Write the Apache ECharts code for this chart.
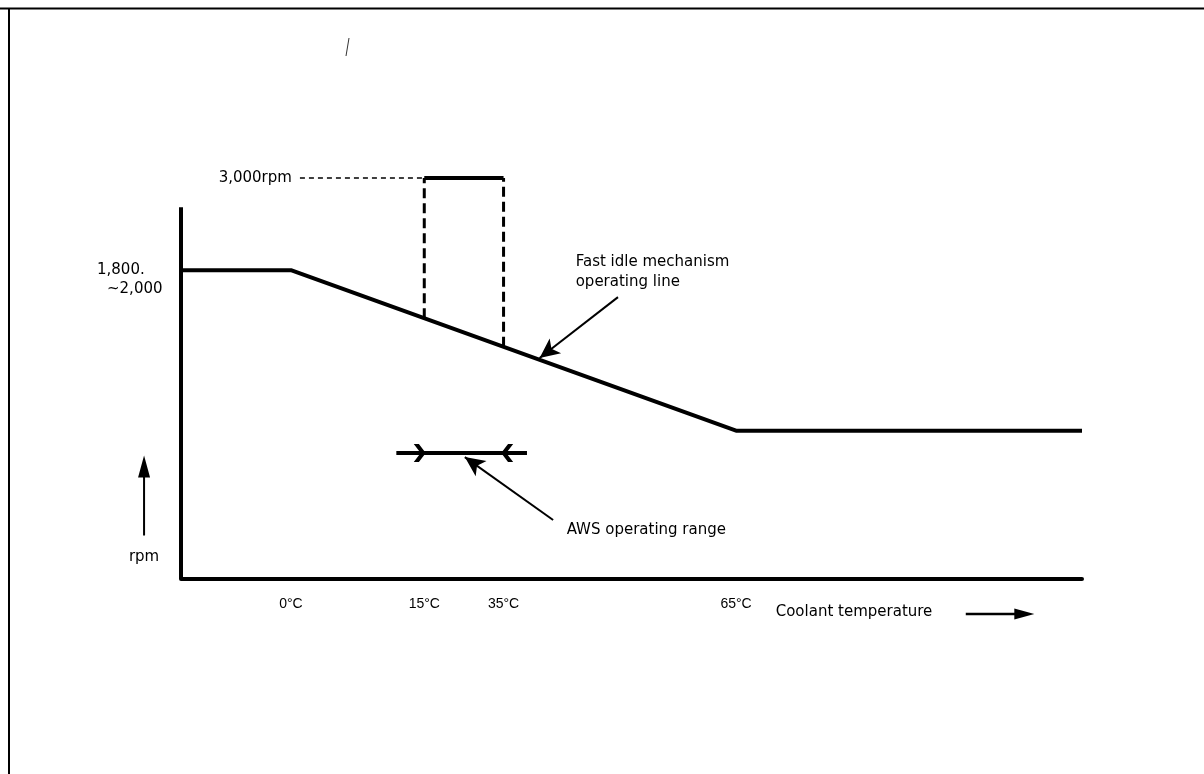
<!DOCTYPE html>
<html>
<head>
<meta charset="utf-8">
<script src="https://cdn.jsdelivr.net/npm/echarts@6/dist/echarts.min.js"></script>
<style>
html,body{margin:0;padding:0;background:#fff;}
#c{width:1204px;height:774px;}
</style>
</head>
<body>
<div id="c"></div>
<script>
// Schematic units: x = position along temperature axis (0..100), y = relative rpm level (0..100)
const tempLabels = ['0°C', '15°C', '35°C', '65°C'];
const tempPos = [12.2, 27.0, 35.8, 61.6];

// Fast idle mechanism operating line
const idleX = [0, 12.2, 61.6, 100];
const idleY = [77, 77, 37, 37];

// 3,000 rpm pulse (AWS)
const pulseX = [27.0, 35.8];
const pulseBottomY = [65.0, 57.9];
const pulseTopY = 100;
const rpm3000RefStartX = 13.2;

// rpm level label
const rpmLevelTop = '1,800.';
const rpmLevelBottom = '~2,000';
const rpmLevelY = 77;

// AWS operating range
const awsRange = [23.9, 38.4];
const awsY = 31.4;
const awsChevrons = [26.5, 36.2];

// y-axis line extent
const yAxisTop = 92.7;

// annotations
const fastIdleText = 'Fast idle mechanism\noperating line';
const fastIdleAnchor = [43.8, 76.6];
const fastIdleArrow = [[48.5, 70.3], [39.8, 55.1]];
const awsText = 'AWS operating range';
const awsAnchor = [42.8, 12.2];
const awsArrow = [[41.3, 14.7], [31.5, 30.4]];
const rpmArrowMid = [-4.1, 20.8];
const rpmText = 'rpm';
const rpmTextAnchor = [-4.1, 5.5];
const coolantText = 'Coolant temperature';
const coolantAnchor = [66.0, -8.3];
const coolantArrow = [[87.1, -8.7], [92.6, -8.7]];
const coolantArrowTip = [93.6, -8.7];

const FONT = 'Liberation Sans';
const FONT2 = 'DejaVu Sans';
const chart = echarts.init(document.getElementById('c'), null, {renderer: 'canvas'});

const chevronRight = 'path://M0,0 L6,0 L14,10 L6,20 L0,20 L8,10 Z';
const chevronLeft = 'path://M14,0 L8,0 L0,10 L8,20 L14,20 L6,10 Z';
const upArrow = 'path://M6,0 L12,22 L7,22 L7,80 L5,80 L5,22 L0,22 Z';

const txt = {color: '#000', fontFamily: FONT, fontSize: 14};
const txt2 = {color: '#000', fontFamily: FONT2, fontSize: 15, opacity: 1};

chart.setOption({
  animation: false,
  backgroundColor: '#fff',
  grid: {left: 181, right: 122, top: 178, bottom: 195, containLabel: false},
  xAxis: {
    type: 'value', min: 0, max: 100,
    splitLine: {show: false},
    axisTick: {show: false},
    axisLine: {show: true, lineStyle: {color: '#000', width: 4}},
    axisLabel: {
      customValues: tempPos,
      formatter: function (v) {
        const i = tempPos.findIndex(p => Math.abs(p - v) < 1e-6);
        return i >= 0 ? tempLabels[i] : '';
      },
      margin: 18, ...txt
    }
  },
  yAxis: {
    type: 'value', min: 0, max: 100,
    splitLine: {show: false},
    axisTick: {show: false},
    axisLine: {show: false},
    axisLabel: {
      customValues: [rpmLevelY],
      formatter: function () { return '{a|' + rpmLevelTop + '}\n{b|' + rpmLevelBottom + '}'; },
      align: 'left', margin: 84, lineHeight: 19,
      padding: [19, 0, 0, 0], ...txt2,
      rich: {
        a: {fontFamily: FONT2, fontSize: 15, color: '#000', lineHeight: 19},
        b: {fontFamily: FONT2, fontSize: 15, color: '#000', lineHeight: 19, padding: [0, 0, 0, 10]}
      }
    }
  },
  graphic: [
    {type: 'line', shape: {x1: 0, y1: 8.5, x2: 1204, y2: 8.5}, style: {stroke: '#000', lineWidth: 2}},
    {type: 'line', shape: {x1: 9, y1: 8, x2: 9, y2: 774}, style: {stroke: '#000', lineWidth: 2}},
    {type: 'line', shape: {x1: 349, y1: 38, x2: 346, y2: 56}, style: {stroke: '#333', lineWidth: 1}}
  ],
  series: [
    { // y axis line
      type: 'line', clip: false, symbol: 'none', silent: true,
      data: [[0, 0], [0, yAxisTop]],
      lineStyle: {color: '#000', width: 4}
    },
    { // fast idle operating line
      type: 'line', clip: false, symbol: 'none',
      data: idleX.map((x, i) => [x, idleY[i]]),
      lineStyle: {color: '#000', width: 4},
      markLine: {
        silent: true, symbol: ['none', 'arrow'], symbolSize: [14, 20],
        label: {show: false},
        lineStyle: {color: '#000', width: 2, type: 'solid', opacity: 1},
        itemStyle: {color: '#000', opacity: 1},
        data: [
          [{coord: fastIdleArrow[0]}, {coord: fastIdleArrow[1]}],
          [{coord: awsArrow[0]}, {coord: awsArrow[1]}]
        ]
      }
    },
    { // dashed vertical left
      type: 'line', clip: false, symbol: 'none',
      data: [[pulseX[0], pulseBottomY[0]], [pulseX[0], pulseTopY]],
      lineStyle: {color: '#000', width: 3, type: [10, 5]}
    },
    { // dashed vertical right
      type: 'line', clip: false, symbol: 'none',
      data: [[pulseX[1], pulseBottomY[1]], [pulseX[1], pulseTopY]],
      lineStyle: {color: '#000', width: 3, type: [10, 5]}
    },
    { // top solid
      type: 'line', clip: false, symbol: 'none',
      data: [[pulseX[0], pulseTopY], [pulseX[1], pulseTopY]],
      lineStyle: {color: '#000', width: 4}
    },
    { // 3000 rpm reference dashed
      type: 'line', clip: false, symbol: 'none',
      data: [
        {value: [rpm3000RefStartX, pulseTopY], label: {show: true, position: 'left', distance: 8, formatter: '3,000rpm', ...txt2}, symbol: 'circle', symbolSize: 0.1},
        [pulseX[0], pulseTopY]
      ],
      lineStyle: {color: '#000', width: 1.5, type: [5, 4]}
    },
    { // AWS range
      type: 'line', clip: false, symbol: 'none',
      data: [[awsRange[0], awsY], [awsRange[1], awsY]],
      lineStyle: {color: '#000', width: 4}
    },
    { // chevrons
      type: 'scatter', clip: false,
      data: [
        {value: [awsChevrons[0], awsY], symbol: chevronRight},
        {value: [awsChevrons[1], awsY], symbol: chevronLeft}
      ],
      symbolSize: [12, 18],
      itemStyle: {color: '#000', opacity: 1}
    },
    { // coolant arrow shaft
      type: 'line', clip: false, symbol: 'none',
      data: coolantArrow,
      lineStyle: {color: '#000', width: 2.5}
    },
    { // arrow heads / rpm arrow
      type: 'scatter', clip: false,
      data: [
        {value: rpmArrowMid, symbol: upArrow, symbolSize: [12, 80], symbolKeepAspect: false},
        {value: coolantArrowTip, symbol: 'triangle', symbolSize: [11, 20], symbolRotate: -90}
      ],
      itemStyle: {color: '#000', opacity: 1}
    },
    { // text annotations
      type: 'scatter', clip: false, symbolSize: 0.1,
      itemStyle: {color: '#fff', opacity: 1},
      data: [
        {value: fastIdleAnchor, label: {show: true, position: 'right', distance: 0, formatter: fastIdleText, lineHeight: 20, ...txt2}},
        {value: awsAnchor, label: {show: true, position: 'right', distance: 0, formatter: awsText, ...txt2}},
        {value: rpmTextAnchor, label: {show: true, position: 'inside', formatter: rpmText, ...txt2}},
        {value: coolantAnchor, label: {show: true, position: 'right', distance: 0, formatter: coolantText, ...txt2}}
      ]
    }
  ]
});
</script>
</body>
</html>
